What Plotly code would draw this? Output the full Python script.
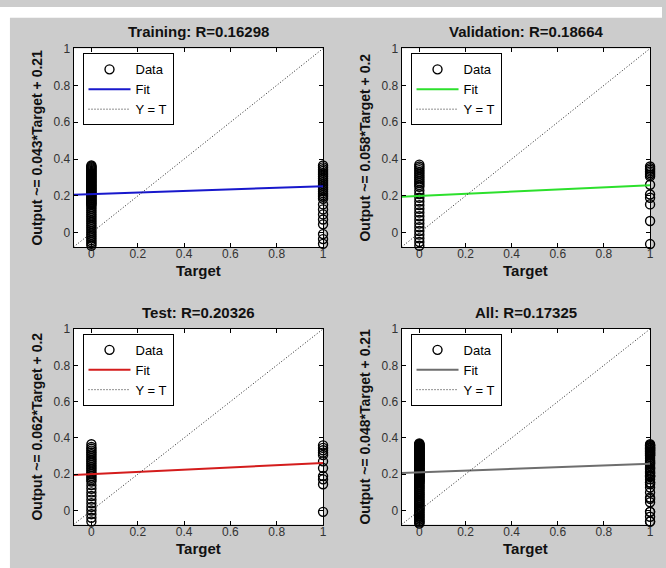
import plotly.graph_objects as go

FONT = "Liberation Sans, Arial, Helvetica, sans-serif"
W, H = 666, 568

# ---------------- data ----------------
axis_lo = -0.077
axis_hi = 1.0

train_out_t0 = [-0.07, -0.06, -0.05, -0.04, -0.03, -0.02, -0.01, 0.0, 0.01, 0.02,
                0.03, 0.04, 0.05, 0.06, 0.07, 0.08, 0.09, 0.10, 0.11, 0.12,
                0.13, 0.14, 0.15, 0.16, 0.17, 0.18, 0.19, 0.20, 0.21, 0.22,
                0.23, 0.24, 0.25, 0.26, 0.27, 0.28, 0.29, 0.30, 0.31, 0.32,
                0.33, 0.34, 0.35, 0.36, 0.155, 0.165, 0.175, 0.185, 0.195, 0.205,
                0.215, 0.225, 0.235, 0.245, 0.255, 0.265, 0.275, 0.285, 0.295,
                0.305, 0.315, 0.325, 0.335, 0.345, 0.355, 0.365]
train_out_t1 = [0.365, 0.355, 0.345, 0.335, 0.325, 0.315, 0.305, 0.295, 0.285,
                0.275, 0.265, 0.255, 0.245, 0.235, 0.225, 0.215, 0.205, 0.195,
                0.185, 0.154, 0.127, 0.10, 0.072, 0.046, -0.007, -0.034, -0.06]

val_out_t0 = [-0.07, -0.05, -0.03, -0.01, 0.01, 0.03, 0.05, 0.07, 0.09, 0.11,
              0.13, 0.15, 0.17, 0.19, 0.21, 0.23, 0.25, 0.26, 0.27, 0.28,
              0.29, 0.30, 0.31, 0.32, 0.33, 0.34, 0.35, 0.36, 0.37]
val_out_t1 = [0.36, 0.35, 0.342, 0.333, 0.324, 0.315, 0.306, 0.261, 0.208,
              0.19, 0.154, 0.064, -0.061]

test_out_t0 = [-0.06, -0.04, -0.02, 0.0, 0.02, 0.04, 0.06, 0.08, 0.10, 0.12,
               0.14, 0.16, 0.17, 0.18, 0.19, 0.20, 0.21, 0.22, 0.23, 0.24,
               0.25, 0.26, 0.27, 0.28, 0.29, 0.30, 0.31, 0.32, 0.33, 0.34,
               0.35, 0.365, 0.664]
test_out_t1 = [0.359, 0.345, 0.332, 0.319, 0.306, 0.271, 0.234, 0.19, 0.172,
               0.145, -0.007]

titles = ["Training: R=0.16298", "Validation: R=0.18664",
          "Test: R=0.20326", "All: R=0.17325"]
ylabels = ["Output ~= 0.043*Target + 0.21", "Output ~= 0.058*Target + 0.2",
           "Output ~= 0.062*Target + 0.2", "Output ~= 0.048*Target + 0.21"]
fit_slope = [0.043, 0.058, 0.062, 0.048]
fit_intercept = [0.21, 0.2, 0.2, 0.21]
legend_labels = ["Data", "Fit", "Y = T"]

all_out_t0 = train_out_t0 + val_out_t0 + test_out_t0
all_out_t1 = train_out_t1 + val_out_t1 + test_out_t1

sets = [(train_out_t0, train_out_t1), (val_out_t0, val_out_t1),
        (test_out_t0, test_out_t1), (all_out_t0, all_out_t1)]

# ---------------- style ----------------
fit_colors = ["#1818CC", "#2CE02C", "#D41C1C", "#6E6E6E"]
# panel boxes in pixels: left, right, top, bottom
boxes = [(74, 325, 42, 243), (404, 654, 42, 243),
         (74, 325, 326, 524), (404, 654, 326, 524)]

def px(x):
    return x / W

def py(y):
    return (H - y) / H

fig = go.Figure()
annotations = []
for i, (t0, t1) in enumerate(sets):
    n = i + 1
    xa = "x" if n == 1 else f"x{n}"
    ya = "y" if n == 1 else f"y{n}"
    lg = "legend" if n == 1 else f"legend{n}"
    xs = [0] * len(t0) + [1] * len(t1)
    ys = t0 + t1
    fig.add_trace(go.Scatter(
        x=xs, y=ys, mode="markers", name=legend_labels[0],
        marker=dict(symbol="circle-open", size=9, color="black",
                    line=dict(width=1.4, color="black")),
        xaxis=xa, yaxis=ya, legend=lg, cliponaxis=False))
    fx = [axis_lo, axis_hi]
    fy = [fit_slope[i] * v + fit_intercept[i] for v in fx]
    fig.add_trace(go.Scatter(
        x=fx, y=fy, mode="lines", name=legend_labels[1],
        line=dict(color=fit_colors[i], width=2),
        xaxis=xa, yaxis=ya, legend=lg))
    fig.add_trace(go.Scatter(
        x=[axis_lo, axis_hi], y=[axis_lo, axis_hi], mode="lines",
        name=legend_labels[2],
        line=dict(color="#222222", width=1, dash="1px,2px"),
        xaxis=xa, yaxis=ya, legend=lg))

    l, r, t, b = boxes[i]
    ax_common = dict(
        range=[axis_lo, axis_hi], dtick=0.2, tick0=0,
        ticks="inside", ticklen=4, tickcolor="black", tickwidth=1,
        showline=True, linecolor="black", linewidth=1, mirror="ticks",
        showgrid=False, zeroline=False, fixedrange=True,
        tickfont=dict(family=FONT, size=12, color="#333333"))
    fig.layout[("xaxis" if n == 1 else f"xaxis{n}")] = dict(
        ax_common, domain=[px(l), px(r)], anchor=ya, ticklabelstandoff=-4)
    fig.layout[("yaxis" if n == 1 else f"yaxis{n}")] = dict(
        ax_common, domain=[py(b), py(t)], anchor=xa)

    fig.layout[lg] = dict(
        x=px(l + 9), y=py(t + 5), xanchor="left", yanchor="top",
        bgcolor="white", bordercolor="black", borderwidth=1,
        font=dict(family=FONT, size=13, color="black"),
        tracegroupgap=0, itemwidth=42)

    cx = (l + r) / 2
    annotations.append(dict(
        text=titles[i], x=px(cx), y=py(t - 17), xref="paper", yref="paper",
        xanchor="center", yanchor="middle", showarrow=False,
        font=dict(family=FONT, size=15, color="#111111", weight="bold")))
    annotations.append(dict(
        text="Target", x=px(cx), y=py(b + 24), xref="paper", yref="paper",
        xanchor="center", yanchor="middle", showarrow=False,
        font=dict(family=FONT, size=15, color="#111111", weight="bold")))
    annotations.append(dict(
        text=ylabels[i], x=px(l - 37), y=py((t + b) / 2), xref="paper",
        yref="paper", xanchor="center", yanchor="middle", showarrow=False,
        textangle=-90,
        font=dict(family=FONT, size=14, color="#111111", weight="bold")))

fig.update_layout(
    width=W, height=H, autosize=False,
    margin=dict(l=0, r=0, t=0, b=0),
    paper_bgcolor="#CCCCCC", plot_bgcolor="white",
    annotations=annotations,
    shapes=[
        dict(type="rect", xref="paper", yref="paper", x0=0, x1=1,
             y0=py(11), y1=1, fillcolor="white", line=dict(width=0)),
        dict(type="rect", xref="paper", yref="paper", x0=0, x1=px(10),
             y0=0, y1=1, fillcolor="white", line=dict(width=0)),
    ],
)

fig.write_html("out.html")
